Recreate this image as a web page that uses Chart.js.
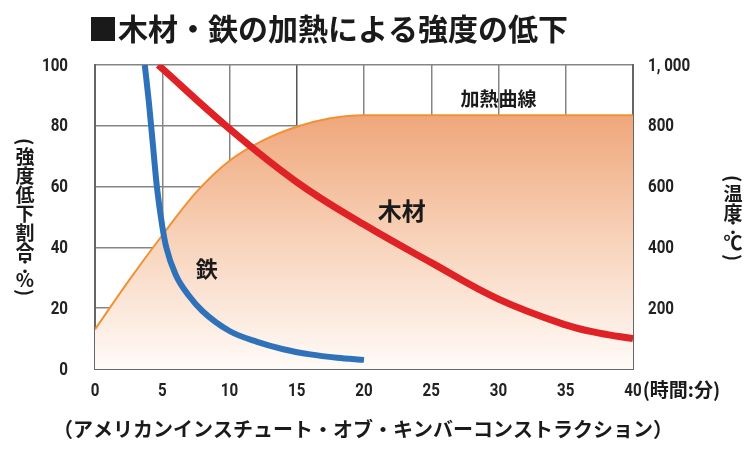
<!DOCTYPE html>
<html lang="ja">
<head>
<meta charset="utf-8">
<script src="https://cdn.jsdelivr.net/npm/chart.js@4.4.0/dist/chart.umd.min.js"></script>
<style>
  html, body { margin: 0; padding: 0; background: #fff; }
  #wrap { width: 750px; height: 450px; position: relative; }
</style>
</head>
<body>
<div id="wrap"><canvas id="chartKyodo"></canvas></div>
<script>
// Data
const titleText = '■木材・鉄の加熱による強度の低下';
const sourceText = '（アメリカンインスチュート・オブ・キンバーコンストラクション）';
const xUnitText = '(時間:分)';
const leftTitleChars = ['(', '強', '度', '低', '下', '割', '合', '：', '%', ')'];
const rightTitleChars = ['(', '温', '度', '：', '℃', ')'];

// 加熱曲線 (時間:分, 温度℃)
const heatTime = [0, 2.5, 5, 7.5, 10, 12.5, 15, 17.5, 20, 25, 30, 35, 40];
const heatTemp = [130, 290, 440, 580, 685, 752, 797, 825, 835, 835, 835, 835, 835];

// 鉄 (時間:分, 強度低下割合%)
const ironTime = [3.7, 4.0, 4.3, 4.6, 5.0, 5.3, 6, 7, 8, 10, 12, 14, 16, 18, 20];
const ironValue = [100, 88, 74, 60, 47, 40, 31, 24, 19, 12.5, 9, 6.5, 4.8, 3.7, 3];

// 木材
const woodTime = [4.7, 10, 15, 20, 25, 30, 35, 37.5, 40];
const woodValue = [100, 79, 61.5, 47.5, 35, 23, 14.5, 11.8, 10];

// Label sumbu
const xTicks = [0, 5, 10, 15, 20, 25, 30, 35, 40];
const yTicks = [0, 20, 40, 60, 80, 100];
const y2Ticks = [200, 400, 600, 800, 1000];
const y2TickText = ['200', '400', '600', '800', '1, 000'];

// Label di dalam grafik (posisi dalam koordinat data)
const curveLabels = [
  { text: '鉄', x: 8.3, y: 33, size: 22 },
  { text: '木材', x: 22.8, y: 52, size: 24 },
  { text: '加熱曲線', x: 30, y: 89, size: 19 },
];

const numFont = "bold 18px Roboto, 'Noto Sans', sans-serif";
const numSquash = 0.84;
const jpFont = "'Noto Sans CJK JP', 'Noto Sans', sans-serif";

function toPoints(xs, ys) {
  return xs.map((x, i) => ({ x: x, y: ys[i] }));
}

// Gradasi isi di bawah kurva pemanasan
function heatGradient(context) {
  const chart = context.chart;
  const area = chart.chartArea;
  if (!area) return 'rgba(240,170,130,0.6)';
  const g = chart.ctx.createLinearGradient(0, area.top, 0, area.bottom);
  g.addColorStop(0, 'rgb(238,160,112)');
  g.addColorStop(0.2, 'rgb(240,170,128)');
  g.addColorStop(0.55, 'rgb(247,208,182)');
  g.addColorStop(1, 'rgb(255,251,248)');
  return g;
}

// Angka sempit (huruf dipadatkan secara horizontal)
function squashText(ctx, text, x, y, align) {
  const w = ctx.measureText(text).width * numSquash;
  let left = x;
  if (align === 'right') left = x - w;
  if (align === 'center') left = x - w / 2;
  ctx.save();
  ctx.translate(left, y);
  ctx.scale(numSquash, 1);
  ctx.textAlign = 'left';
  ctx.fillText(text, 0, 0);
  ctx.restore();
  return w;
}

function drawVertical(ctx, chars, x, yStart) {
  let y = yStart;
  ctx.font = 'bold 19px ' + jpFont;
  ctx.textAlign = 'center';
  ctx.textBaseline = 'middle';
  chars.forEach((c) => {
    let step = 19;
    if (c === '(' || c === ')' || c === '：') step = 11;
    if (c === '%') step = 15;
    const cy = y + step / 2;
    if (c === '(' || c === ')') {
      ctx.save();
      ctx.translate(x, cy);
      ctx.rotate(Math.PI / 2);
      ctx.fillText(c, 0, 0);
      ctx.restore();
    } else {
      ctx.fillText(c, x, cy);
    }
    y += step;
  });
}

// Teks tambahan: judul, angka sumbu, label vertikal, label kurva, sumber
const textPlugin = {
  id: 'textPlugin',
  afterDraw(chart) {
    const ctx = chart.ctx;
    const xs = chart.scales.x;
    const ys = chart.scales.y;
    const ys2 = chart.scales.y2;
    const area = chart.chartArea;
    ctx.save();
    ctx.fillStyle = '#1a1a1a';
    ctx.textBaseline = 'middle';

    // judul
    ctx.font = 'bold 30px ' + jpFont;
    ctx.textAlign = 'left';
    ctx.fillText(titleText, 88, 29);

    // label kurva
    curveLabels.forEach((l) => {
      ctx.font = 'bold ' + l.size + 'px ' + jpFont;
      ctx.textAlign = 'center';
      ctx.fillText(l.text, xs.getPixelForValue(l.x), ys.getPixelForValue(l.y));
    });

    // angka sumbu
    ctx.font = numFont;
    ctx.fillStyle = '#222';
    let w40 = 0;
    xTicks.forEach((v) => {
      const w = squashText(ctx, String(v), xs.getPixelForValue(v), area.bottom + 22, 'center');
      if (v === 40) w40 = w;
    });
    yTicks.forEach((v) => {
      squashText(ctx, String(v), area.left - 27, ys.getPixelForValue(v) + 1, 'right');
    });
    y2Ticks.forEach((v, i) => {
      squashText(ctx, y2TickText[i], area.right + 15, ys2.getPixelForValue(v) + 1, 'left');
    });

    // satuan sumbu x setelah "40"
    ctx.fillStyle = '#1a1a1a';
    ctx.font = 'bold 19px ' + jpFont;
    ctx.textAlign = 'left';
    ctx.fillText(xUnitText, xs.getPixelForValue(40) + w40 / 2 + 1, area.bottom + 21);

    // sumber
    ctx.font = 'bold 20px ' + jpFont;
    ctx.fillText(sourceText, 53, 429);

    // judul sumbu vertikal (tategaki)
    drawVertical(ctx, leftTitleChars, 25, 136);
    drawVertical(ctx, rightTitleChars, 733, 173);
    ctx.restore();
  },
};

const ctxKyodo = document.getElementById('chartKyodo').getContext('2d');
const chartKyodo = new Chart(ctxKyodo, {
  type: 'line',
  data: {
    datasets: [
      {
        label: '加熱曲線',
        data: toPoints(heatTime, heatTemp),
        yAxisID: 'y2',
        borderColor: 'rgb(240,146,52)',
        borderWidth: 2,
        backgroundColor: heatGradient,
        fill: 'origin',
        pointRadius: 0,
        cubicInterpolationMode: 'monotone',
        order: 3,
      },
      {
        label: '鉄',
        data: toPoints(ironTime, ironValue),
        yAxisID: 'y',
        borderColor: 'rgb(48,114,186)',
        borderWidth: 6,
        fill: false,
        pointRadius: 0,
        cubicInterpolationMode: 'monotone',
        order: 2,
      },
      {
        label: '木材',
        data: toPoints(woodTime, woodValue),
        yAxisID: 'y',
        borderColor: 'rgb(222,34,38)',
        borderWidth: 7,
        fill: false,
        pointRadius: 0,
        tension: 0.4,
        order: 1,
      },
    ],
  },
  options: {
    responsive: true,
    maintainAspectRatio: false,
    animation: false,
    layout: { padding: { top: 65, left: 0, right: 0, bottom: 0 } },
    plugins: {
      legend: { display: false },
      tooltip: { enabled: false },
    },
    scales: {
      x: {
        type: 'linear',
        min: 0,
        max: 40,
        ticks: { stepSize: 5, color: 'transparent', maxRotation: 0 },
        grid: {
          color: (c) => (c.tick && c.tick.value === 15 ? '#555' : '#858585'),
          lineWidth: 1.5,
          drawTicks: false,
        },
        border: { color: '#666', width: 2 },
        afterFit: (s) => { s.height = 81; },
      },
      y: {
        min: 0,
        max: 100,
        position: 'left',
        ticks: { stepSize: 20, color: 'transparent' },
        grid: { color: '#858585', lineWidth: 1.5, drawTicks: false },
        border: { color: '#666', width: 2 },
        afterFit: (s) => { s.width = 95; },
      },
      y2: {
        min: 0,
        max: 1000,
        position: 'right',
        ticks: { stepSize: 200, color: 'transparent' },
        grid: { display: false, drawTicks: false },
        border: { color: '#666', width: 2 },
        afterFit: (s) => { s.width = 117; },
      },
    },
  },
  plugins: [textPlugin],
});
</script>
</body>
</html>
